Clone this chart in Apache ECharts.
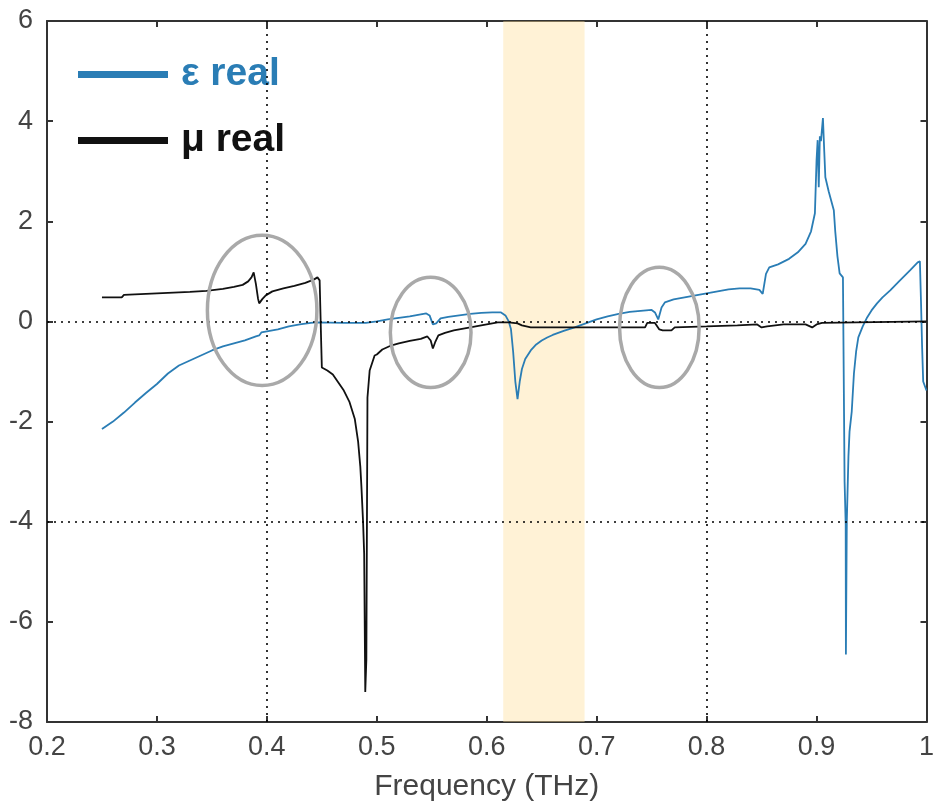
<!DOCTYPE html>
<html>
<head>
<meta charset="utf-8">
<script src="https://cdn.jsdelivr.net/npm/echarts@6/dist/echarts.min.js"></script>
<style>
html,body{margin:0;padding:0;background:#fff;}
#chart{width:937px;height:810px;}
</style>
</head>
<body>
<div id="chart"></div>
<script>
// ---- data ----
const xTicks = [0.2, 0.3, 0.4, 0.5, 0.6, 0.7, 0.8, 0.9, 1.0];
const yTicks = [-8, -6, -4, -2, 0, 2, 4, 6];

const epsFreq = [0.250,0.260,0.270,0.280,0.290,0.300,0.310,0.320,0.330,0.340,0.350,0.360,0.370,0.380,0.390,0.393,0.395,0.400,0.410,0.420,0.430,0.440,0.445,0.470,0.490,0.500,0.510,0.520,0.530,0.540,0.545,0.548,0.551,0.554,0.558,0.565,0.575,0.585,0.595,0.605,0.613,0.617,0.620,0.622,0.624,0.626,0.628,0.630,0.632,0.635,0.640,0.645,0.650,0.655,0.660,0.670,0.680,0.690,0.700,0.710,0.720,0.730,0.740,0.750,0.753,0.756,0.759,0.762,0.770,0.780,0.790,0.800,0.810,0.820,0.830,0.840,0.848,0.851,0.854,0.857,0.865,0.875,0.883,0.890,0.895,0.8985,0.900,0.901,0.902,0.903,0.904,0.9058,0.907,0.908,0.911,0.9157,0.917,0.919,0.921,0.924,0.9255,0.9265,0.9267,0.9275,0.929,0.930,0.932,0.934,0.936,0.938,0.942,0.946,0.950,0.955,0.960,0.967,0.975,0.985,0.992,0.994,0.995,0.996,0.997,1.000];
const epsReal = [-2.15,-2.00,-1.82,-1.62,-1.43,-1.25,-1.04,-0.88,-0.78,-0.68,-0.58,-0.50,-0.44,-0.38,-0.30,-0.28,-0.22,-0.20,-0.16,-0.10,-0.06,-0.03,-0.02,-0.03,-0.03,0.00,0.04,0.07,0.10,0.14,0.16,0.12,-0.06,-0.04,0.06,0.09,0.12,0.15,0.17,0.18,0.18,0.12,0.00,-0.15,-0.60,-1.20,-1.55,-1.20,-0.95,-0.75,-0.58,-0.46,-0.38,-0.32,-0.27,-0.19,-0.12,-0.04,0.04,0.10,0.15,0.19,0.21,0.23,0.18,0.04,0.28,0.38,0.44,0.48,0.52,0.56,0.60,0.64,0.66,0.66,0.63,0.55,0.95,1.08,1.14,1.25,1.38,1.55,1.80,2.16,3.22,3.62,2.68,3.70,3.60,4.06,3.40,2.88,2.60,2.22,1.80,1.30,0.96,0.88,-3.20,-4.05,-6.65,-4.00,-2.70,-2.20,-1.80,-1.04,-0.60,-0.32,-0.10,0.08,0.22,0.36,0.48,0.62,0.80,1.02,1.18,1.20,0.40,-0.50,-1.20,-1.38];

const muFreq = [0.250,0.268,0.270,0.290,0.310,0.330,0.345,0.360,0.370,0.378,0.383,0.386,0.388,0.390,0.392,0.393,0.396,0.399,0.405,0.415,0.425,0.435,0.443,0.446,0.448,0.4495,0.450,0.455,0.460,0.465,0.470,0.475,0.480,0.483,0.485,0.486,0.4875,0.4885,0.4895,0.4905,0.4915,0.4935,0.498,0.500,0.505,0.512,0.520,0.530,0.540,0.546,0.549,0.551,0.553,0.556,0.562,0.570,0.580,0.590,0.600,0.610,0.620,0.628,0.632,0.640,0.700,0.744,0.746,0.753,0.757,0.760,0.768,0.771,0.800,0.828,0.846,0.850,0.855,0.870,0.890,0.896,0.900,0.905,0.906,1.000];
const muReal = [0.48,0.48,0.53,0.55,0.57,0.59,0.61,0.65,0.69,0.73,0.80,0.88,0.98,0.75,0.45,0.36,0.45,0.52,0.60,0.66,0.71,0.77,0.84,0.88,0.82,-0.50,-0.92,-0.98,-1.06,-1.22,-1.38,-1.60,-1.95,-2.40,-2.90,-3.30,-4.00,-4.64,-7.40,-6.75,-1.52,-0.98,-0.68,-0.66,-0.56,-0.49,-0.44,-0.39,-0.35,-0.30,-0.38,-0.54,-0.42,-0.28,-0.23,-0.18,-0.14,-0.10,-0.06,-0.02,-0.02,-0.04,-0.08,-0.12,-0.12,-0.12,-0.03,-0.03,-0.16,-0.18,-0.18,-0.12,-0.10,-0.08,-0.06,-0.12,-0.10,-0.06,-0.06,-0.12,-0.06,-0.03,0.00,0.00];

const bandRange = [0.615, 0.689];
const guideX = [0.4, 0.8];
const guideY = [0, -4];
// annotation ellipses: [centre freq, centre value, half-width (THz), half-height (value)]
const ellipses = [
  [0.3957, 0.22, 0.0498, 1.50],
  [0.549, -0.22, 0.0367, 1.10],
  [0.757, -0.12, 0.0362, 1.20]
];
const seriesNames = ['ε real', 'μ real'];

// ---- chart ----
const BLUE = '#2a7db5';
const BLACK = '#111111';
const FONT = 'Liberation Sans';
const chart = echarts.init(document.getElementById('chart'), null, {renderer: 'canvas'});

function zip(a, b){ return a.map((x, i) => [x, b[i]]); }

const axisCommon = {
  type: 'value',
  axisLine: {show: true, onZero: false, lineStyle: {color: '#333', width: 2}},
  axisTick: {show: true, inside: true, length: 6, lineStyle: {color: '#333', width: 2}},
  splitLine: {show: false}
};

const option = {
  animation: false,
  backgroundColor: '#fff',
  grid: {left: 47, right: 6, top: 21, bottom: 88, containLabel: false},
  legend: {
    orient: 'vertical',
    left: 73, top: 50,
    icon: 'rect',
    itemWidth: 90, itemHeight: 7,
    itemGap: 27,
    data: [
      {name: seriesNames[0], textStyle: {color: BLUE}},
      {name: seriesNames[1], textStyle: {color: BLACK}}
    ],
    textStyle: {fontFamily: FONT, fontSize: 39, fontWeight: 'bold', padding: [0, 0, 0, 8]}
  },
  xAxis: [
    Object.assign({}, axisCommon, {
      position: 'bottom', min: xTicks[0], max: xTicks[xTicks.length-1], interval: 0.1,
      axisLabel: {color: '#444', fontFamily: FONT, fontSize: 27, margin: 12,
        formatter: v => String(Math.round(v*10)/10)},
      name: 'Frequency (THz)', nameLocation: 'middle', nameGap: 50,
      nameTextStyle: {color: '#444', fontFamily: FONT, fontSize: 30}
    }),
    Object.assign({}, axisCommon, {
      position: 'top', min: xTicks[0], max: xTicks[xTicks.length-1], interval: 0.1,
      axisLabel: {show: false}
    })
  ],
  yAxis: [
    Object.assign({}, axisCommon, {
      position: 'left', min: yTicks[0], max: yTicks[yTicks.length-1], interval: 2,
      axisLabel: {color: '#444', fontFamily: FONT, fontSize: 27, margin: 14}
    }),
    Object.assign({}, axisCommon, {
      position: 'right', min: yTicks[0], max: yTicks[yTicks.length-1], interval: 2,
      axisLabel: {show: false}
    })
  ],
  series: [
    {
      name: seriesNames[0], type: 'line', showSymbol: false, symbol: 'none',
      data: zip(epsFreq, epsReal), color: BLUE, z: 3,
      lineStyle: {color: BLUE, width: 1.8}
    },
    {
      name: seriesNames[1], type: 'line', showSymbol: false, symbol: 'none',
      data: zip(muFreq, muReal), color: BLACK, z: 3,
      lineStyle: {color: BLACK, width: 1.8},
      markLine: {
        silent: true, symbol: 'none', label: {show: false},
        lineStyle: {color: '#000', type: [2, 5], width: 1.6},
        data: guideX.map(v => ({xAxis: v})).concat(guideY.map(v => ({yAxis: v})))
      }
    },
    {
      name: 'band', type: 'line', data: [], z: 5, silent: true,
      markArea: {
        silent: true,
        itemStyle: {color: 'rgba(255,222,152,0.4)'},
        data: [[{xAxis: bandRange[0]}, {xAxis: bandRange[1]}]]
      }
    }
  ]
};
chart.setOption(option);

// annotation ellipses positioned through the chart's own scales
const shapes = ellipses.map(e => {
  const c = chart.convertToPixel({gridIndex: 0}, [e[0], e[1]]);
  const px = chart.convertToPixel({gridIndex: 0}, [e[0] + e[2], e[1] + e[3]]);
  return {
    type: 'ellipse', silent: true, z: 10,
    shape: {cx: c[0], cy: c[1], rx: Math.abs(px[0] - c[0]), ry: Math.abs(px[1] - c[1])},
    style: {fill: 'none', stroke: '#a9a9a9', lineWidth: 3.5}
  };
});
chart.setOption({graphic: shapes});
</script>
</body>
</html>
